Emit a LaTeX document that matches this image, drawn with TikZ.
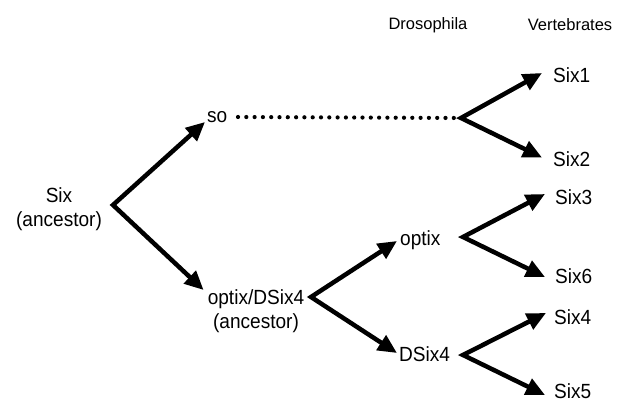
\documentclass[tikz,border=0pt]{standalone}
\usepackage{fontspec}
\setmainfont{Liberation Sans}
\newfontfamily\labelfont[FakeStretch=0.93]{Liberation Sans}
\usetikzlibrary{arrows.meta}
\begin{document}
\begin{tikzpicture}[x=1pt,y=-1pt,
  lbl/.style={inner sep=0pt, anchor=west, font=\labelfont\fontsize{20.5}{24}\selectfont, text height=14.7pt, text depth=0pt},
  lbltwo/.style={inner sep=0pt, anchor=north, align=center, font=\labelfont\fontsize{20.5}{24}\selectfont},
  head/.style={inner sep=0pt, font=\fontsize{16.5}{20}\selectfont},
  fork/.style={line width=4.5pt, line join=miter, {Triangle[length=19pt,width=17pt]}-{Triangle[length=19pt,width=17pt]}},
  dotline/.style={line width=4.2pt, line cap=round, dash pattern=on 0pt off 8.3pt}]
\useasboundingbox (0,0) rectangle (623,403);

% column headings
\node[head] (dros) at (428,25) {Drosophila};
\node[head] (vert) at (570,25) {Vertebrates};

% ancestral genes
\node[lbltwo] (six) at (59,187.5) {Six\\(ancestor)};
\node[lbltwo] (anc) at (256,289.5) {optix/DSix4\\(ancestor)};

% Drosophila genes
\node[lbl] (so) at (207,115) {so};
\node[lbl] (optix) at (400,238) {optix};
\node[lbl] (dsix) at (399,354) {DSix4};

% vertebrate genes
\node[lbl] (s1) at (553,75) {Six1};
\node[lbl] (s2) at (553,159) {Six2};
\node[lbl] (s3) at (555,197) {Six3};
\node[lbl] (s6) at (555,276) {Six6};
\node[lbl] (s4) at (554,317) {Six4};
\node[lbl] (s5) at (554,391) {Six5};

% branch points
\coordinate (v0) at (113,205);
\coordinate (v1) at (311,297);
\coordinate (v2) at (461,118);
\coordinate (v3) at (463,237);
\coordinate (v4) at (463,355);
\coordinate (dotstart) at (238,117);

% duplications
\draw[fork] ([shift={(-2,7)}]so.west) -- (v0) -- ([shift={(-4,0.5)}]anc.north west);
\draw[fork] ([shift={(-3,3)}]optix.west) -- (v1) -- ([shift={(-2,-1)}]dsix.west);
\draw[dotline] (dotstart) -- (v2);
\draw[fork] ([shift={(-11,-2)}]s1.west) -- (v2) -- ([shift={(-11,-1.5)}]s2.west);
\draw[fork] ([shift={(-10,-3)}]s3.west) -- (v3) -- ([shift={(-10,1)}]s6.west);
\draw[fork] ([shift={(-8,-4)}]s4.west) -- (v4) -- ([shift={(-9,4)}]s5.west);
\end{tikzpicture}
\end{document}
